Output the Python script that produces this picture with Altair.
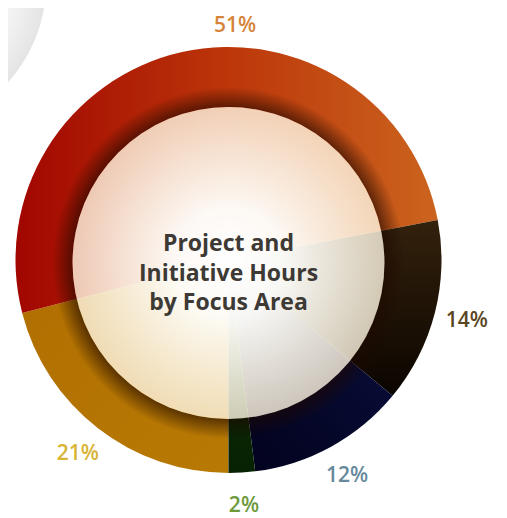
import math
import altair as alt
import pandas as pd

# ---- data ----
areas = ["Area A", "Area B", "Area C", "Area D", "Area E"]
shares = [21, 51, 14, 12, 2]
share_labels = ["21%", "51%", "14%", "12%", "2%"]
title_lines = ["Project and", "Initiative Hours", "by Focus Area"]

# ---- styles ----
label_colors = ["#d8b334", "#d5843a", "#5a4622", "#66899b", "#6e9a3c"]
slice_fills = {
    "Area A": {"gradient": "linear", "x1": 0, "y1": 0, "x2": 1, "y2": 1,
               "stops": [{"offset": 0, "color": "#b06e00"}, {"offset": 1, "color": "#b87a04"}]},
    "Area B": {"gradient": "linear", "x1": 0, "y1": 0.5, "x2": 1, "y2": 0.5,
               "stops": [{"offset": 0, "color": "#a10600"}, {"offset": 0.5, "color": "#bc360a"},
                         {"offset": 1, "color": "#cb641e"}]},
    "Area C": {"gradient": "linear", "x1": 0.5, "y1": 0, "x2": 0.5, "y2": 1,
               "stops": [{"offset": 0, "color": "#33210c"}, {"offset": 1, "color": "#0b0500"}]},
    "Area D": {"gradient": "linear", "x1": 1, "y1": 0, "x2": 0, "y2": 1,
               "stops": [{"offset": 0, "color": "#0a0f3e"}, {"offset": 1, "color": "#02021c"}]},
    "Area E": {"gradient": "linear", "x1": 0.5, "y1": 0, "x2": 0.5, "y2": 1,
               "stops": [{"offset": 0, "color": "#0c2e06"}, {"offset": 1, "color": "#072202"}]},
}

W, H = 491, 510
cx, cy = 220.5, 252.0
R_OUT, R_IN = 213, 156
TWO_PI = 2 * math.pi

ends = pd.Series(shares).cumsum()
df = pd.DataFrame({
    "area": areas,
    "share": shares,
    "label": share_labels,
    "end": ends,
})
df["start"] = df["end"] - df["share"]
df["mid"] = (df["start"] + df["end"]) / 2

theta_scale = alt.Scale(domain=[0, 100], range=[math.pi, 3 * math.pi], zero=False, nice=False)
base = alt.Chart(df)
one = alt.Chart(pd.DataFrame({"k": [1]}))

# decorative grey sphere in the top-left corner
sphere = one.mark_arc(
    radius=146, theta=0, theta2=TWO_PI,
    fill={"gradient": "radial", "stops": [
        {"offset": 0, "color": "#fafafa"},
        {"offset": 0.8, "color": "#f2f2f2"},
        {"offset": 1, "color": "#e4e4e4"}]},
).encode(x=alt.value(-108), y=alt.value(-24))

rings = []
for a in areas:
    rings.append(
        base.transform_filter(alt.datum.area == a)
        .mark_arc(outerRadius=R_OUT, innerRadius=0, fill=slice_fills[a])
        .encode(
            theta=alt.Theta("start:Q", scale=theta_scale, stack=None),
            theta2="end:Q",
            x=alt.value(cx), y=alt.value(cy),
        )
    )

SH_OUT = R_IN + 20
shadow = one.mark_arc(
    innerRadius=R_IN, outerRadius=SH_OUT, theta=0, theta2=TWO_PI,
    fill={"gradient": "radial", "stops": [
        {"offset": 0, "color": "rgba(30,8,0,0)"},
        {"offset": R_IN / SH_OUT, "color": "rgba(30,8,0,0.6)"},
        {"offset": 1, "color": "rgba(30,8,0,0)"}]},
).encode(x=alt.value(cx), y=alt.value(cy + 3))

disc = one.mark_arc(
    radius=R_IN, theta=0, theta2=TWO_PI,
    fill={"gradient": "radial", "stops": [
        {"offset": 0, "color": "rgba(255,255,255,1)"},
        {"offset": 0.35, "color": "rgba(255,255,252,0.97)"},
        {"offset": 1, "color": "rgba(255,246,225,0.8)"}]},
).encode(x=alt.value(cx), y=alt.value(cy + 3))

center_text = one.mark_text(
    text=title_lines, font="Open Sans", fontSize=23, fontWeight="bold",
    lineHeight=29.5, align="center", baseline="middle", color="#3d3935",
).encode(x=alt.value(cx), y=alt.value(236))

label_color = alt.Color("area:N", scale=alt.Scale(domain=areas, range=label_colors), legend=None)

labels = base.transform_filter(alt.datum.share < 50).mark_text(
    radius=246, font="Open Sans", fontSize=21, fontWeight=600,
    align="center", baseline="middle",
).encode(
    theta=alt.Theta("mid:Q", scale=theta_scale, stack=None),
    text="label:N", color=label_color,
    x=alt.value(cx), y=alt.value(cy),
)

big_label = base.transform_filter(alt.datum.share >= 50).mark_text(
    radius=240, dx=59, dy=0, font="Open Sans", fontSize=21, fontWeight=600,
    align="center", baseline="middle",
).encode(
    theta=alt.Theta("mid:Q", scale=theta_scale, stack=None),
    text="label:N", color=label_color,
    x=alt.value(cx), y=alt.value(cy),
)

chart = alt.layer(sphere, *rings, shadow, disc, center_text, labels, big_label).properties(
    width=W, height=H, autosize=alt.AutoSizeParams(type="none"), padding=0,
    background="white",
).configure_view(strokeWidth=0)

chart.save("out.html", embed_options={"renderer": "svg", "actions": False})
